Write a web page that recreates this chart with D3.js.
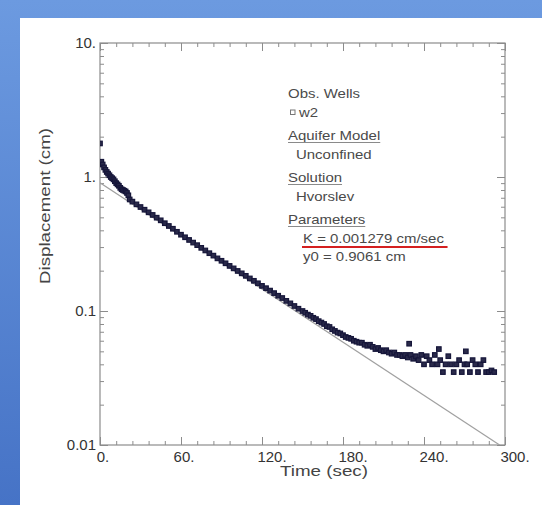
<!DOCTYPE html>
<html>
<head>
<meta charset="utf-8">
<title>Hvorslev slug test</title>
<script src="https://cdn.jsdelivr.net/npm/d3@7"></script>
<style>
  body { margin: 0; }
  svg { display: block; font-family: 'Liberation Sans', Arial, sans-serif; }
  .frame { fill: none; stroke: #8c8c8c; stroke-width: 1.2px; }
  .axis line { stroke: #8c8c8c; stroke-width: 1px; }
  .axis path { display: none; }
  .ticklbl { font-size: 15px; fill: #333; }
  .title { font-size: 15px; fill: #444; }
  .legend text { font-size: 13px; fill: #4a4a4a; }
</style>
</head>
<body>
<svg width="542" height="505"></svg>
<script>
// observed displacement, well w2
var obsTime = [
  0, 1, 2, 3, 4, 5, 6, 7, 8, 9, 10, 11, 12, 13, 14, 15, 16, 17, 18, 19, 20, 21, 22,
  24, 27, 30, 33, 36, 39, 42, 45, 48, 51, 54, 57, 60, 63, 66, 69, 72, 75, 78, 81,
  84, 87, 90, 93, 96, 99, 102, 105, 108, 111, 114, 117, 120, 123, 126, 129, 132,
  135, 138, 141, 144, 147,
  150, 152, 154, 156, 158, 160, 162, 164, 166, 168, 170, 172, 174, 176, 178, 180,
  182, 184, 186, 188, 190, 192, 194, 196, 198, 200, 202, 204, 206, 208, 210, 212,
  214, 216, 218, 220, 222, 224, 226, 228, 229, 230, 232, 234, 236, 238, 240, 242,
  244, 246, 248, 250, 251, 252, 254, 256, 258, 260, 262, 264, 266, 268, 270, 271,
  272, 274, 276, 278, 280, 282, 284, 286, 288, 290, 292
];
var obsDisp = [
  1.78, 1.30, 1.24, 1.18, 1.13, 1.09, 1.06, 1.03, 1.00, 0.98, 0.96, 0.93, 0.90,
  0.88, 0.86, 0.83, 0.81, 0.80, 0.79, 0.78, 0.76, 0.73, 0.68,
  0.655, 0.625, 0.597, 0.570, 0.545, 0.521, 0.497, 0.475, 0.452, 0.431, 0.411,
  0.390, 0.371, 0.355, 0.339, 0.324, 0.310, 0.296, 0.283, 0.270, 0.259, 0.247,
  0.237, 0.227, 0.217, 0.208, 0.199, 0.191, 0.183, 0.175, 0.168, 0.161, 0.154,
  0.148, 0.142, 0.136, 0.130, 0.125, 0.119, 0.114, 0.109, 0.104,
  0.100, 0.097, 0.094, 0.092, 0.089, 0.087, 0.084, 0.082, 0.080, 0.077, 0.076,
  0.073, 0.071, 0.069, 0.068, 0.066, 0.064, 0.063, 0.062, 0.060, 0.059, 0.058,
  0.058, 0.056, 0.055, 0.056, 0.054, 0.052, 0.053, 0.051, 0.050, 0.051, 0.049,
  0.048, 0.049, 0.047, 0.047, 0.046, 0.047, 0.045, 0.057, 0.047, 0.044, 0.046,
  0.043, 0.047, 0.040, 0.046, 0.043, 0.040, 0.047, 0.040, 0.052, 0.043, 0.035,
  0.040, 0.046, 0.040, 0.035, 0.040, 0.043, 0.035, 0.040, 0.050, 0.040, 0.035,
  0.043, 0.040, 0.035, 0.040, 0.043, 0.035, 0.035, 0.036, 0.035
];

// Hvorslev fit, end points of the straight line
var fitTime = [0, 296];
var fitDisp = [0.9061, 0.01];

var xTicks = [0, 60, 120, 180, 240, 300];
var xTickLabels = ['0.', '60.', '120.', '180.', '240.', '300.'];
var yTicks = [0.01, 0.1, 1, 10];
var yTickLabels = ['0.01', '0.1', '1.', '10.'];

var legendText = ['Obs. Wells', 'w2', 'Aquifer Model', 'Unconfined', 'Solution',
  'Hvorslev', 'Parameters', 'K  = 0.001279 cm/sec', 'y0 = 0.9061 cm'];
var legendKind = ['head', 'well', 'head', 'item', 'head', 'item', 'head', 'param', 'param'];

var svg = d3.select('svg'),
    W = +svg.attr('width'),
    H = +svg.attr('height');

var pL = 100, pR = 505, pT = 43, pB = 445;

// blue slide background with white panel
var defs = svg.append('defs');
var grad = defs.append('linearGradient')
    .attr('id', 'bg').attr('x1', 0).attr('y1', 0).attr('x2', 0).attr('y2', 1);
grad.append('stop').attr('offset', '0%').attr('stop-color', '#6c9ae0');
grad.append('stop').attr('offset', '100%').attr('stop-color', '#4673c6');
svg.append('rect').attr('width', W).attr('height', H).attr('fill', 'url(#bg)');
svg.append('rect').attr('x', 20).attr('y', 18).attr('width', W - 20).attr('height', H - 18)
    .attr('fill', '#ffffff');

defs.append('clipPath').attr('id', 'plotclip')
  .append('rect').attr('x', pL).attr('y', pT)
    .attr('width', pR - pL).attr('height', pB - pT);

var x = d3.scaleLinear().domain([0, 300]).range([pL, pR]);
var y = d3.scaleLog().domain([0.01, 10]).range([pB, pT]);

var xMinor = d3.range(0, 301, 12).filter(function(d) { return d % 60 !== 0; });
var yMinor = [];
[0.01, 0.1, 1].forEach(function(dec) {
  d3.range(2, 10).forEach(function(k) { yMinor.push(dec * k); });
});

function ticks(axisFn, scale, vals, size, tx) {
  svg.append('g').attr('class', 'axis')
    .attr('transform', tx)
    .call(axisFn(scale).tickValues(vals).tickSize(size).tickFormat(''));
}
ticks(d3.axisBottom, x, xTicks, -8, 'translate(0,' + pB + ')');
ticks(d3.axisBottom, x, xMinor, -4, 'translate(0,' + pB + ')');
ticks(d3.axisTop, x, xTicks, -8, 'translate(0,' + pT + ')');
ticks(d3.axisTop, x, xMinor, -4, 'translate(0,' + pT + ')');
ticks(d3.axisLeft, y, yTicks, -8, 'translate(' + pL + ',0)');
ticks(d3.axisLeft, y, yMinor, -4, 'translate(' + pL + ',0)');
ticks(d3.axisRight, y, yTicks, -8, 'translate(' + pR + ',0)');
ticks(d3.axisRight, y, yMinor, -4, 'translate(' + pR + ',0)');

svg.append('rect').attr('class', 'frame')
    .attr('x', pL).attr('y', pT)
    .attr('width', pR - pL).attr('height', pB - pT);

// tick labels
svg.append('g').selectAll('text')
  .data(xTicks)
  .enter().append('text')
    .attr('class', 'ticklbl')
    .attr('x', function(d) { return x(d); })
    .attr('dx', function(d, i) { return xTickLabels[i].length >= 4 ? 10 : 3; })
    .attr('y', pB + 17)
    .attr('text-anchor', 'middle')
    .text(function(d, i) { return xTickLabels[i]; });

svg.append('g').selectAll('text')
  .data(yTicks)
  .enter().append('text')
    .attr('class', 'ticklbl')
    .attr('x', pL - 4)
    .attr('y', function(d) { return y(d) + 5; })
    .attr('text-anchor', 'end')
    .text(function(d, i) { return yTickLabels[i]; });

// axis titles
svg.append('text').attr('class', 'title')
    .attr('x', 324).attr('y', pB + 31)
    .attr('text-anchor', 'middle')
    .attr('textLength', 88).attr('lengthAdjust', 'spacingAndGlyphs')
    .text('Time (sec)');

svg.append('text').attr('class', 'title')
    .attr('transform', 'translate(50,206) rotate(-90)')
    .attr('text-anchor', 'middle')
    .attr('textLength', 156).attr('lengthAdjust', 'spacingAndGlyphs')
    .text('Displacement (cm)');

// data
var plot = svg.append('g').attr('clip-path', 'url(#plotclip)');

var line = d3.line()
    .x(function(d) { return x(d[0]); })
    .y(function(d) { return y(d[1]); });

plot.append('path')
    .datum(d3.zip(fitTime, fitDisp))
    .attr('fill', 'none')
    .attr('stroke', '#a0a0a0')
    .attr('stroke-width', 1.2)
    .attr('d', line);

var s = 4.5;
plot.selectAll('rect.obs')
  .data(d3.zip(obsTime, obsDisp))
  .enter().append('rect')
    .attr('class', 'obs')
    .attr('x', function(d) { return x(d[0]) - s / 2; })
    .attr('y', function(d) { return y(d[1]) - s / 2; })
    .attr('width', s).attr('height', s)
    .attr('fill', '#2a2a4a')
    .attr('stroke', '#16163a')
    .attr('stroke-width', 1.2);

// legend
var lg = svg.append('g').attr('class', 'legend');
var ly = 98, rows = [];
legendText.forEach(function(t, i) {
  if (i > 0) ly += (legendKind[i] === 'head') ? 23 : (legendKind[i] === 'param' && legendKind[i - 1] === 'param' ? 18 : 19);
  rows.push(ly);
});

lg.selectAll('text')
  .data(legendText)
  .enter().append('text')
    .attr('x', function(d, i) {
      var k = legendKind[i];
      return k === 'head' ? 288 : k === 'well' ? 299 : k === 'item' ? 296 : 303;
    })
    .attr('y', function(d, i) { return rows[i]; })
    .text(function(d) { return d; })
    .each(function(d, i) {
      var w = this.getComputedTextLength();
      d3.select(this).attr('textLength', w * 1.15).attr('lengthAdjust', 'spacingAndGlyphs');
      if (legendKind[i] === 'head' && i > 0) {
        lg.append('line')
          .attr('x1', 288).attr('x2', 288 + w * 1.15)
          .attr('y1', rows[i] + 2.5).attr('y2', rows[i] + 2.5)
          .attr('stroke', '#8a8a8a').attr('stroke-width', 1);
      }
      if (d.indexOf('K') === 0) {
        lg.append('line')
          .attr('x1', 302).attr('x2', 303 + w * 1.18)
          .attr('y1', rows[i] + 4).attr('y2', rows[i] + 4)
          .attr('stroke', '#d42020').attr('stroke-width', 2);
      }
    });

// w2 symbol
lg.append('rect')
    .attr('x', 290.5).attr('y', rows[1] - 7)
    .attr('width', 4.5).attr('height', 4.5)
    .attr('fill', 'none').attr('stroke', '#777').attr('stroke-width', 1);
</script>
</body>
</html>
